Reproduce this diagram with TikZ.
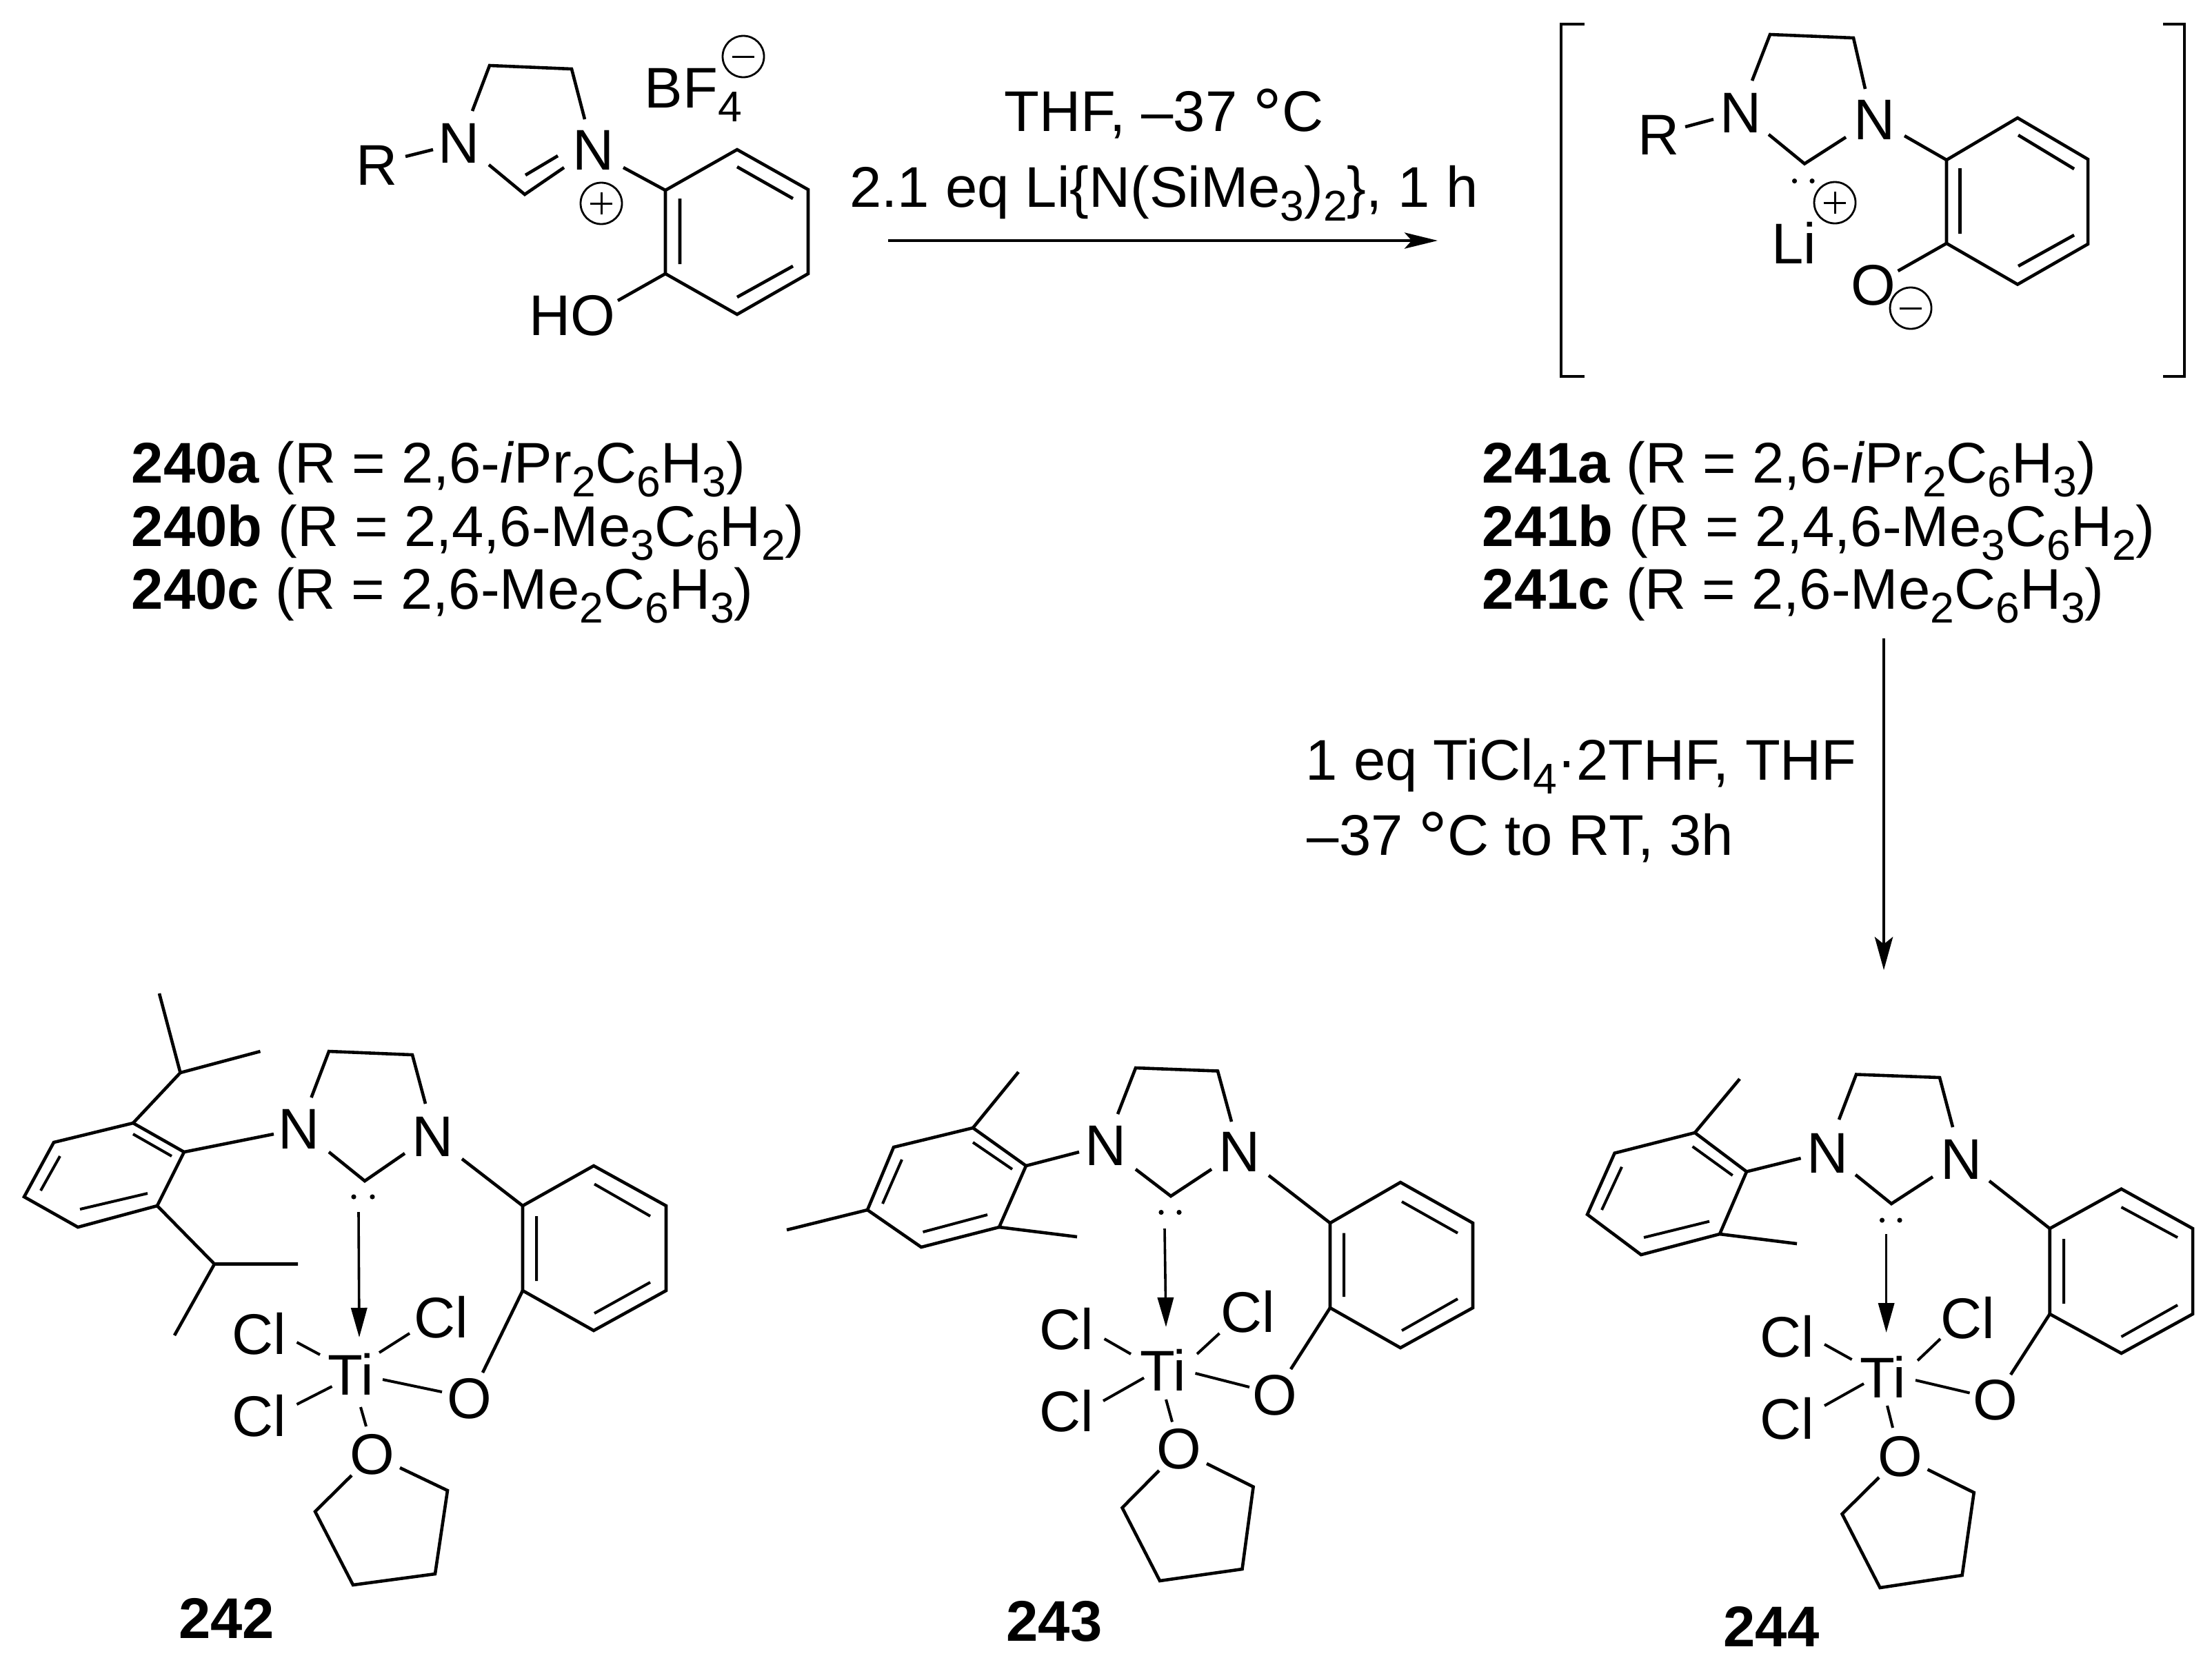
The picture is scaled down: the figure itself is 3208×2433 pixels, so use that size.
\documentclass[tikz,border=0pt]{standalone}
\usepackage{fontspec}
\setmainfont{Liberation Sans}
\usetikzlibrary{arrows.meta}
\newcommand{\lsub}[1]{\raisebox{-5pt}{\fontsize{15.6}{15.6}\selectfont #1}}
\newcommand{\degr}{\raisebox{-2.7pt}{\fontsize{26}{26}\selectfont °}}
\tikzset{
  bond/.style={line width=1.15pt,line join=miter,black},
  thinbond/.style={line width=1pt,black},
  txt/.style={inner sep=0pt,font=\fontsize{20.8}{24}\selectfont,text=black},
  atom/.style={txt,anchor=center},
  line/.style={txt,anchor=base west},
  cent/.style={txt,anchor=base},
  chgbase/.style={circle,draw=black,line width=0.7pt,minimum size=15pt,inner sep=0pt},
  chgminus/.style={chgbase,path picture={\draw[line width=0.75pt] ([xshift=-4.1pt]path picture bounding box.center) -- ([xshift=4.1pt]path picture bounding box.center);}},
  chgplus/.style={chgbase,path picture={\draw[line width=0.75pt] ([xshift=-4.1pt]path picture bounding box.center) -- ([xshift=4.1pt]path picture bounding box.center) ([yshift=-4.1pt]path picture bounding box.center) -- ([yshift=4.1pt]path picture bounding box.center);}},
  rxn/.style={line width=1.15pt,black,-{Stealth[length=12pt,width=5.8pt,inset=2.6pt]}},
  rxnthin/.style={line width=0.85pt,black,-{Stealth[length=12pt,width=6.6pt,inset=2.6pt]}},
  dative/.style={line width=0.9pt,black,-{Stealth[length=10.75pt,width=5.75pt,inset=0pt]}},
}
\begin{document}
\begin{tikzpicture}[x=0.25pt,y=-0.25pt]
\useasboundingbox (0,0) rectangle (3208,2433);
\fill[white] (0,0) rectangle (3208,2433);

% ---------- 240
\node[atom] (a240R) at (547,240) {R};
\node[atom] (a240Na) at (666,208) {N};
\node[atom] (a240Nb) at (861,218) {N};
\node[atom] (a240HO) at (830,458) {HO};
\node[line] (a240BF) at (934,156) {BF\lsub{4}};
\node[chgminus] (a240m) at (1078,82) {};
\node[chgplus] (a240p) at (872,295) {};
\draw[bond] (588,227) -- (628,217);
\draw[bond] (685,161) -- (710,95) -- (829,100) -- (848,173);
\draw[bond] (709,239) -- (761,282) -- (818,243);
\draw[bond] (762,254) -- (809,226);
\draw[bond] (904,243) -- (965,276);
\draw[bond] (965,276) -- (1069,217) -- (1172,275) -- (1172,397) -- (1069,456) -- (965,397) -- cycle;
\draw[bond] (986,288) -- (986,383) (1069,242) -- (1150,288) (1069,431) -- (1150,386);
\draw[bond] (965,397) -- (896,436);

% ---------- reaction 1
\node[cent] (c1) at (1688,190.5) {THF, –37 \degr{}C};
\node[cent] (c2) at (1688,300) {2.1 eq Li\{N(SiMe\lsub{3})\lsub{2}\}, 1 h};
\coordinate (r1s) at (1288,349);
\coordinate (r1e) at (2085,349);
\draw[rxn] (r1s) -- (r1e);

% ---------- 241
\draw[bond] (2297.5,35) -- (2264,35) -- (2264,546) -- (2297.5,546);
\draw[bond] (3137,35) -- (3168,35) -- (3168,546) -- (3137,546);
\node[atom] (a241R) at (2405,196) {R};
\node[atom] (a241Na) at (2524,164) {N};
\node[atom] (a241Nb) at (2718,174) {N};
\node[atom] (a241Li) at (2602,352) {Li};
\node[atom] (a241O) at (2716.5,413.5) {O};
\node[chgplus] (a241p) at (2661,294) {};
\node[chgminus] (a241m) at (2771,447) {};
\draw[bond] (2444,184) -- (2485,173);
\draw[bond] (2541,117) -- (2567,50) -- (2688,55) -- (2705,129);
\draw[bond] (2565,195) -- (2617,237.5) -- (2677,199);
\fill (2602.5,262.5) circle[radius=0.9pt] (2628,262.5) circle[radius=0.9pt];
\draw[bond] (2762,197) -- (2823,232);
\draw[bond] (2823,232) -- (2926,171) -- (3028,231) -- (3028,354) -- (2926,412.5) -- (2823,353) -- cycle;
\draw[bond] (2842.5,244) -- (2842.5,339) (2927,196) -- (3008,245) (2927,386) -- (3008,341);
\draw[bond] (2823,353) -- (2752.5,393);

% ---------- labels
\node[line] (l240a) at (190,700) {\textbf{240a} (R = 2,6-\textit{i}Pr\lsub{2}C\lsub{6}H\lsub{3})};
\node[line] (l240b) at (190,792) {\textbf{240b} (R = 2,4,6-Me\lsub{3}C\lsub{6}H\lsub{2})};
\node[line] (l240c) at (190,883) {\textbf{240c} (R = 2,6-Me\lsub{2}C\lsub{6}H\lsub{3})};
\node[line] (l241a) at (2149,700) {\textbf{241a} (R = 2,6-\textit{i}Pr\lsub{2}C\lsub{6}H\lsub{3})};
\node[line] (l241b) at (2149,792) {\textbf{241b} (R = 2,4,6-Me\lsub{3}C\lsub{6}H\lsub{2})};
\node[line] (l241c) at (2149,883) {\textbf{241c} (R = 2,6-Me\lsub{2}C\lsub{6}H\lsub{3})};

% ---------- reaction 2
\node[line] (d1) at (1893,1131) {1 eq TiCl\lsub{4}·2THF, THF};
\node[line] (d2) at (1895,1240) {–37 \degr{}C to RT, 3h};
\coordinate (r2s) at (2732,926);
\coordinate (r2e) at (2732,1407);
\draw[rxnthin] (r2s) -- (r2e);

% ---------- 242
\node[atom] (b2Na) at (434,1638) {N};
\node[atom] (b2Nb) at (628,1649) {N};
\node[atom] (b2Ti) at (509,1993) {Ti};
\node[atom] (b2Cla) at (376,1935) {Cl};
\node[atom] (b2Clb) at (640,1910.5) {Cl};
\node[atom] (b2Clc) at (376,2054) {Cl};
\node[atom] (b2Oa) at (680.5,2029) {O};
\node[atom] (b2Ob) at (540,2109.5) {O};
\node[cent] (b2L) at (328.5,2376) {\textbf{242}};
\draw[bond] (477,1671) -- (529,1713) -- (587,1673);
\draw[bond] (451.5,1592) -- (477,1525) -- (598,1530) -- (617,1601);
\fill (513,1736) circle[radius=0.9pt] (540,1736) circle[radius=0.9pt];
\coordinate (b2as) at (520,1758); \coordinate (b2ae) at (521,1940);
\draw[dative] (b2as) -- (b2ae);
\draw[thinbond] (430.5,1947) -- (464,1965) (550,1962) -- (594,1934) (430.5,2037) -- (481.5,2011) (555,2001) -- (641,2019) (523,2041) -- (531,2069);
\draw[bond] (510,2140) -- (457,2192.5) -- (512,2299) -- (631,2283) -- (649,2162) -- (580,2129);
\draw[bond] (670,1681) -- (758,1749);
\draw[bond] (758,1749) -- (861,1691) -- (966,1749) -- (966,1872) -- (861,1930) -- (758,1872) -- cycle;
\draw[thinbond] (778,1764) -- (778,1858) (862,1717.5) -- (943,1764) (862,1905) -- (943,1860);
\draw[bond] (758,1872) -- (700,1991);
\draw[bond] (267,1671) -- (193,1629) -- (78,1657) -- (35,1736) -- (113,1780) -- (228,1749) -- cycle;
\draw[thinbond] (193,1645) -- (249,1677) (87,1677) -- (59,1727) (116,1754) -- (214,1731);
\draw[bond] (267,1671) -- (397,1645);
\draw[bond] (193,1629) -- (261.5,1556) -- (231,1441) (261.5,1556) -- (377.5,1525);
\draw[bond] (228,1749) -- (311,1833.5) -- (432,1833.5) (311,1833.5) -- (253,1937);

% ---------- 243
\node[atom] (b3Na) at (1604,1662) {N};
\node[atom] (b3Nb) at (1798,1671) {N};
\node[atom] (b3Ti) at (1687,1987) {Ti};
\node[atom] (b3Cla) at (1547,1928) {Cl};
\node[atom] (b3Clb) at (1810,1903) {Cl};
\node[atom] (b3Clc) at (1547,2047) {Cl};
\node[atom] (b3Oa) at (1849,2024) {O};
\node[atom] (b3Ob) at (1710,2102) {O};
\node[cent] (b3L) at (1529,2380) {\textbf{243}};
\draw[bond] (1647,1696) -- (1698,1735) -- (1757,1696);
\draw[bond] (1621,1616) -- (1647,1549) -- (1766,1553.5) -- (1786,1627);
\fill (1684,1758.5) circle[radius=0.9pt] (1710,1758.5) circle[radius=0.9pt];
\coordinate (b3as) at (1689,1782); \coordinate (b3ae) at (1691,1925);
\draw[dative] (b3as) -- (b3ae);
\draw[thinbond] (1601.6,1942) -- (1640,1964) (1736,1964) -- (1768.5,1934) (1600,2032) -- (1659,1998.6) (1733.5,1992) -- (1812,2012) (1691,2030) -- (1700,2062.5);
\draw[bond] (1681,2133) -- (1627.5,2187) -- (1682,2293) -- (1801.5,2276) -- (1817.6,2156.6) -- (1750,2123);
\draw[bond] (1840,1705) -- (1929,1774);
\draw[bond] (1929,1774) -- (2031,1715) -- (2136,1774) -- (2136,1897) -- (2031,1955) -- (1929,1897) -- cycle;
\draw[thinbond] (1949,1788.6) -- (1949,1881) (2033,1743) -- (2114,1788.6) (2033,1930) -- (2114,1884);
\draw[bond] (1929,1897) -- (1872,1986);
\draw[bond] (1488,1691) -- (1411,1636) -- (1296,1664) -- (1258,1755) -- (1336,1809) -- (1449,1780) -- cycle;
\draw[thinbond] (1411,1657) -- (1468,1696) (1308,1682) -- (1280,1746) (1338.5,1787) -- (1432,1762);
\draw[bond] (1488,1691) -- (1565,1671);
\draw[bond] (1411,1636) -- (1477,1555) (1258,1755) -- (1141,1784) (1449,1780) -- (1562,1794);

% ---------- 244
\node[atom] (b4Na) at (2650,1672.6) {N};
\node[atom] (b4Nb) at (2844,1682) {N};
\node[atom] (b4Ti) at (2731,1997) {Ti};
\node[atom] (b4Cla) at (2592,1939) {Cl};
\node[atom] (b4Clb) at (2853.5,1912) {Cl};
\node[atom] (b4Clc) at (2592,2058) {Cl};
\node[atom] (b4Oa) at (2894,2031) {O};
\node[atom] (b4Ob) at (2756,2113) {O};
\node[cent] (b4L) at (2569,2388) {\textbf{244}};
\draw[bond] (2691,1704) -- (2743,1746) -- (2803,1707);
\draw[bond] (2667,1624) -- (2692,1558.5) -- (2813,1563) -- (2832,1635);
\fill (2729.5,1770) circle[radius=0.9pt] (2755,1770) circle[radius=0.9pt];
\coordinate (b4as) at (2735.6,1790); \coordinate (b4ae) at (2735.6,1933);
\draw[dative] (b4as) -- (b4ae);
\draw[thinbond] (2646,1950) -- (2685.6,1972) (2781,1973.5) -- (2814,1942) (2646,2039) -- (2703,2007) (2778,2002) -- (2856.6,2020.5) (2737,2039) -- (2745,2071);
\draw[bond] (2725,2143) -- (2671.5,2196) -- (2726.5,2303) -- (2845.6,2285) -- (2862.7,2165) -- (2795.5,2131.5);
\draw[bond] (2885,1713) -- (2972.7,1782);
\draw[bond] (2972.7,1782) -- (3076.5,1724.6) -- (3180,1782) -- (3180,1906) -- (3076.5,1963) -- (2972.7,1906) -- cycle;
\draw[thinbond] (2993,1797) -- (2993,1891) (3076.5,1751) -- (3158,1795) (3076.5,1939) -- (3158,1893);
\draw[bond] (2972.7,1906) -- (2916,1994);
\draw[bond] (2533,1699.5) -- (2458,1643) -- (2341.6,1672.6) -- (2302,1761.6) -- (2380,1820) -- (2494,1790) -- cycle;
\draw[thinbond] (2454.6,1663) -- (2512.7,1705) (2352,1692.6) -- (2323,1755) (2384,1795) -- (2479,1771.6);
\draw[bond] (2533,1699.5) -- (2611.6,1680);
\draw[bond] (2458,1643) -- (2523,1565) (2494,1790) -- (2606,1804);
\end{tikzpicture}
\end{document}
